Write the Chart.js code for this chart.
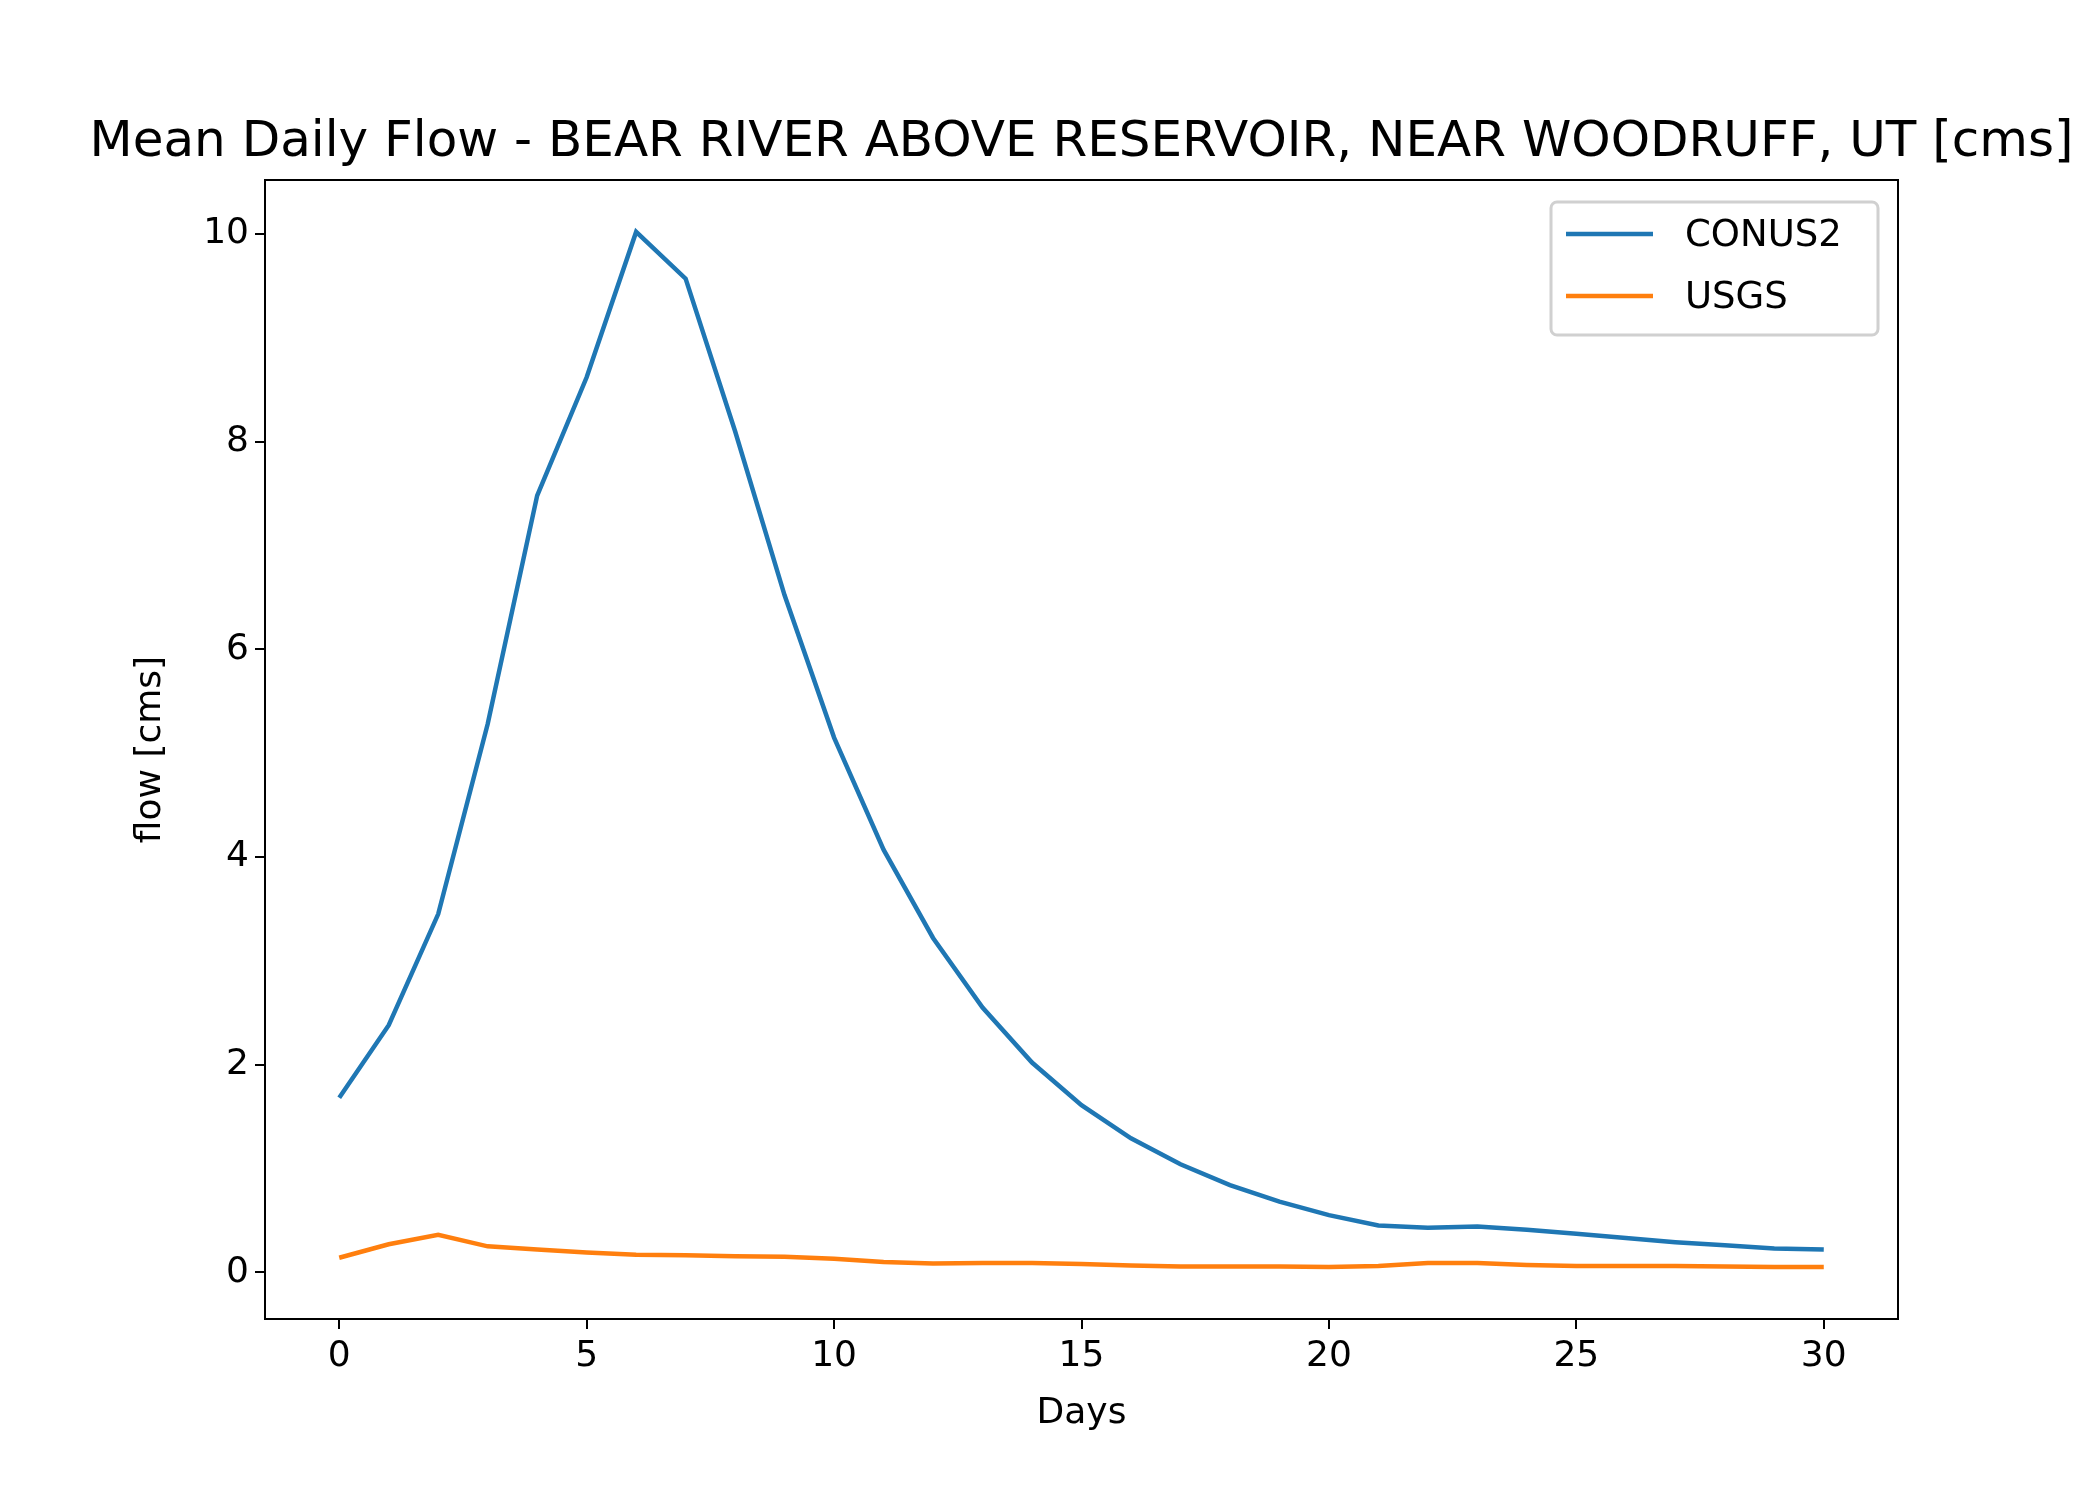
<!DOCTYPE html>
<html>
<head>
<meta charset="utf-8">
<script src="https://cdn.jsdelivr.net/npm/chart.js@4"></script>
<style>
  html, body { margin: 0; padding: 0; background: #fff; }
  #wrap { width: 2100px; height: 1500px; }
</style>
</head>
<body>
<div id="wrap"><canvas id="flowChart" width="2100" height="1500"></canvas></div>
<script>
// Data
const days = [0,1,2,3,4,5,6,7,8,9,10,11,12,13,14,15,16,17,18,19,20,21,22,23,24,25,26,27,28,29,30];
const conus2 = [1.68,2.38,3.45,5.28,7.48,8.62,10.02,9.57,8.10,6.52,5.15,4.07,3.22,2.55,2.02,1.61,1.29,1.04,0.84,0.68,0.55,0.45,0.43,0.44,0.41,0.37,0.33,0.29,0.26,0.23,0.22];
const usgs = [0.14,0.27,0.36,0.25,0.22,0.19,0.17,0.165,0.155,0.15,0.13,0.10,0.085,0.09,0.09,0.08,0.065,0.055,0.055,0.055,0.05,0.06,0.09,0.09,0.07,0.06,0.06,0.06,0.055,0.05,0.05];
const xTicks = [0,5,10,15,20,25,30];
const yTicks = [0,2,4,6,8,10];

const titleText = 'Mean Daily Flow - BEAR RIVER ABOVE RESERVOIR, NEAR WOODRUFF, UT [cms]';
const font = 'DejaVu Sans';

// Title, legend and spines drawn by hand to sit like the original
const decor = {
    id: 'decor',
    afterDraw(chart) {
        const c = chart.ctx;
        const a = chart.chartArea;
        c.save();
        // full box around the plot
        c.strokeStyle = '#000';
        c.lineWidth = 2;
        c.strokeRect(a.left, a.top, a.right - a.left, a.bottom - a.top);

        c.fillStyle = '#000';
        c.font = '50px "' + font + '"';
        c.textAlign = 'center';
        c.textBaseline = 'alphabetic';
        c.fillText(titleText, (a.left + a.right) / 2, 156);

        // legend box
        const bx = 1551, by = 202, bw = 327, bh = 133;
        c.fillStyle = 'rgba(255,255,255,0.8)';
        c.strokeStyle = '#d0d0d0';
        c.lineWidth = 3;
        c.beginPath();
        c.roundRect(bx, by, bw, bh, 6);
        c.fill();
        c.stroke();
        const items = [['CONUS2', '#1f77b4', 234], ['USGS', '#ff7f0e', 296]];
        c.font = '37px "' + font + '"';
        c.textAlign = 'left';
        c.textBaseline = 'middle';
        items.forEach(([label, col, y]) => {
            c.strokeStyle = col;
            c.lineWidth = 4.5;
            c.beginPath();
            c.moveTo(1566, y);
            c.lineTo(1653, y);
            c.stroke();
            c.fillStyle = '#000';
            c.fillText(label, 1685, y + 2);
        });
        c.restore();
    }
};

const ctx = document.getElementById('flowChart').getContext('2d');
new Chart(ctx, {
    type: 'line',
    data: {
        datasets: [
            { label: 'CONUS2', data: days.map((d, i) => ({ x: d, y: conus2[i] })), borderColor: '#1f77b4', borderWidth: 4.5, pointRadius: 0, tension: 0 },
            { label: 'USGS', data: days.map((d, i) => ({ x: d, y: usgs[i] })), borderColor: '#ff7f0e', borderWidth: 4.5, pointRadius: 0, tension: 0 }
        ]
    },
    options: {
        responsive: false,
        animation: false,
        devicePixelRatio: 1,
        layout: { padding: { left: 125, right: 202, top: 180, bottom: 61 } },
        plugins: { legend: { display: false }, title: { display: false }, tooltip: { enabled: false } },
        scales: {
            x: {
                type: 'linear', min: -1.5, max: 31.5,
                afterFit(s) { s.height = 120; },
                afterBuildTicks(s) { s.ticks = xTicks.map(v => ({ value: v })); },
                border: { color: '#000', width: 2 },
                grid: { drawOnChartArea: false, color: '#000', lineWidth: 2, tickLength: 10 },
                ticks: { color: '#000', font: { family: font, size: 36 }, padding: 6, maxRotation: 0 },
                title: { display: true, text: 'Days', color: '#000', font: { family: font, size: 36 }, padding: { top: 4 } }
            },
            y: {
                type: 'linear', min: -0.45, max: 10.52,
                afterFit(s) { s.width = 140; },
                afterBuildTicks(s) { s.ticks = yTicks.map(v => ({ value: v })); },
                border: { color: '#000', width: 2 },
                grid: { drawOnChartArea: false, color: '#000', lineWidth: 2, tickLength: 10 },
                ticks: { color: '#000', font: { family: font, size: 36 }, padding: 6 },
                title: { display: true, text: 'flow [cms]', color: '#000', font: { family: font, size: 36 }, padding: { bottom: 16 } }
            }
        }
    },
    plugins: [decor]
});
</script>
</body>
</html>
